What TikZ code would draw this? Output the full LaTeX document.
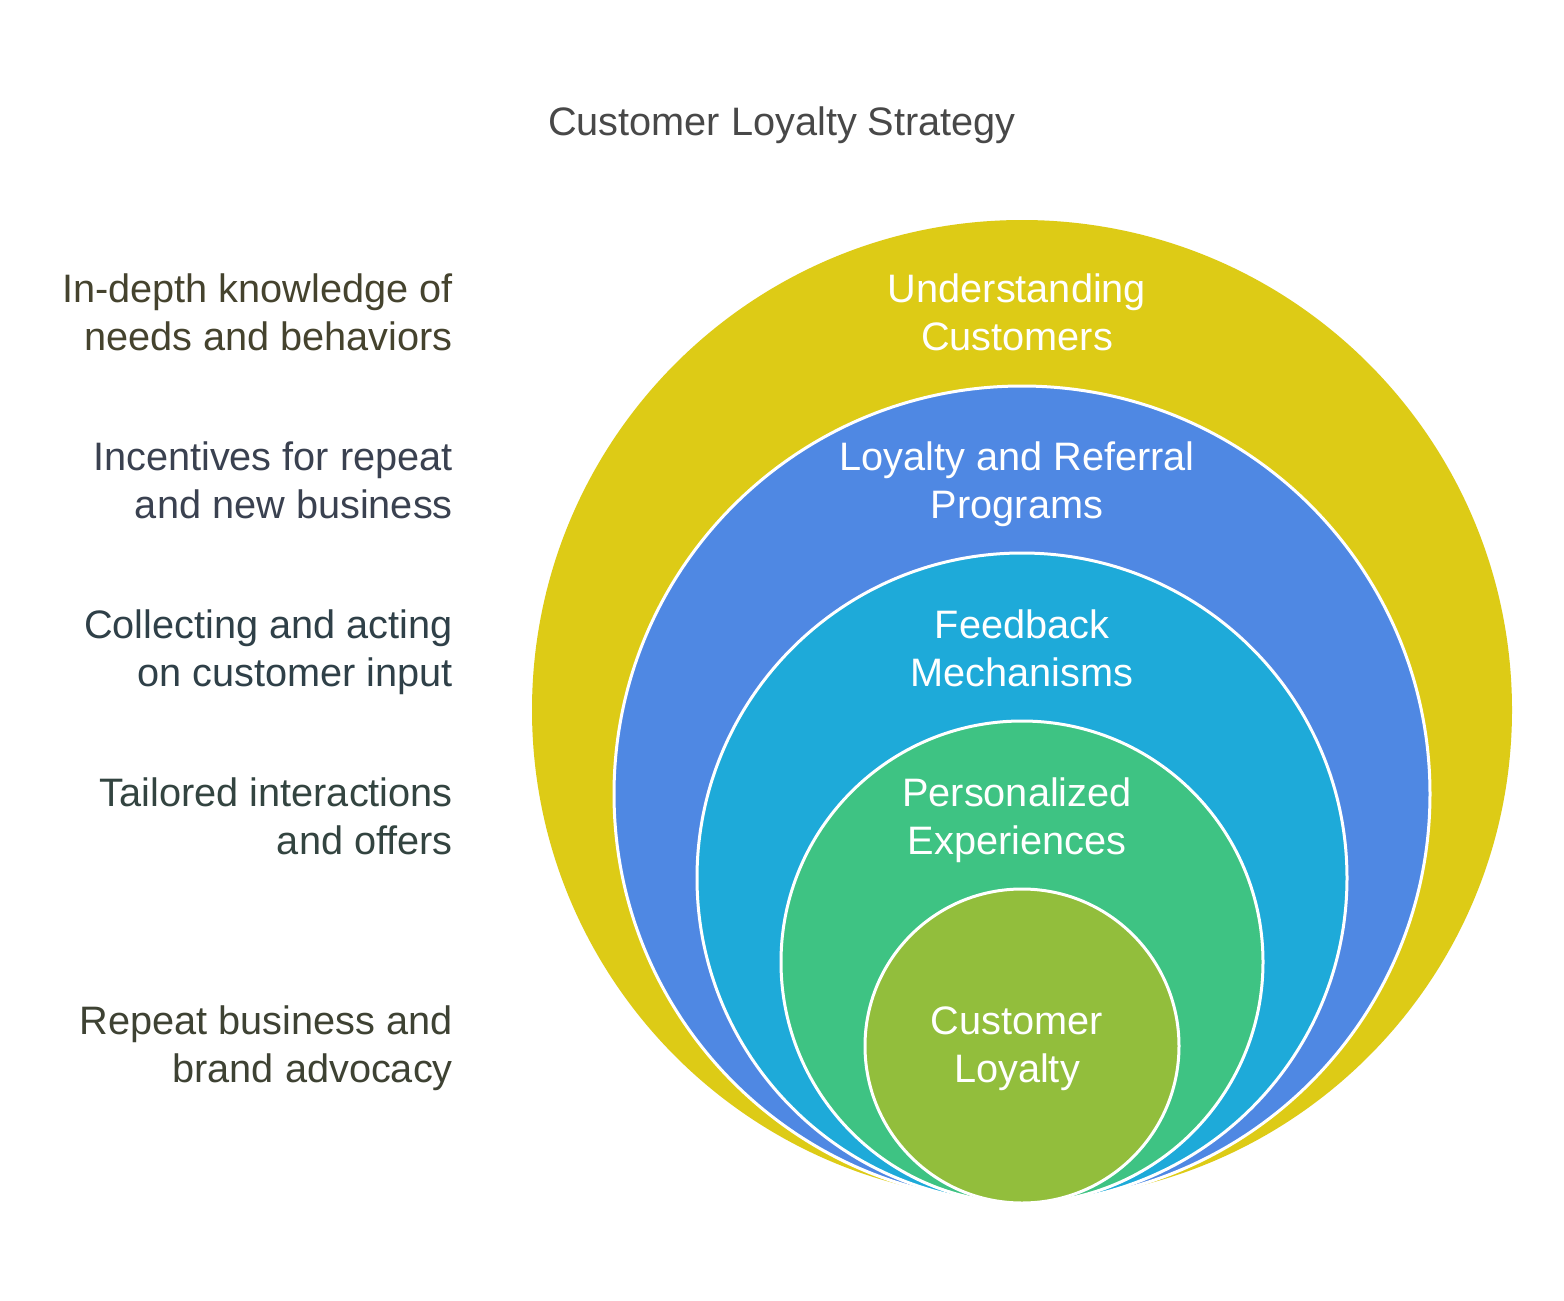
\documentclass[tikz,border=0pt]{standalone}
\usepackage{fontspec}
\setmainfont{Liberation Sans}
\definecolor{cyel}{HTML}{DDCB16}
\definecolor{cblu}{HTML}{4F88E3}
\definecolor{ccya}{HTML}{1EAAD9}
\definecolor{cgrn}{HTML}{3EC383}
\definecolor{coli}{HTML}{92BE3C}
\definecolor{ctitle}{HTML}{484848}
\definecolor{tA}{HTML}{45432E}
\definecolor{tB}{HTML}{3A4150}
\definecolor{tC}{HTML}{2F4048}
\definecolor{tD}{HTML}{334440}
\definecolor{tE}{HTML}{3E4233}
\begin{document}
\begin{tikzpicture}[x=1pt,y=-1pt,
  ring/.style={draw=white,line width=3pt},
  lbl/.style={font=\fontsize{39.7}{48}\selectfont,inner sep=0pt,align=right,anchor=east},
  inlbl/.style={font=\fontsize{39.7}{48}\selectfont,inner sep=0pt,align=center,anchor=center,text=white},
]
\useasboundingbox (0,0) rectangle (1564,1301);
\fill[white] (0,0) rectangle (1564,1301);
% circles
\fill[cyel] (1022,710) circle (490);
\filldraw[ring,fill=cblu] (1022,794) circle (408);
\filldraw[ring,fill=ccya] (1022,878) circle (325);
\filldraw[ring,fill=cgrn] (1022,962) circle (241);
\filldraw[ring,fill=coli] (1022,1046) circle (157);
% title
\node[font=\fontsize{39.7}{48}\selectfont,text=ctitle,inner sep=0pt,anchor=base] (title) at (782,135) {Customer Loyalty Strategy};
% circle labels
\node[inlbl] (c1) at (1017,316.4) {\strut Understanding\\\strut Customers};
\node[inlbl] (c2) at (1017,484.4) {\strut Loyalty and Referral\\\strut Programs};
\node[inlbl] (c3) at (1022,652.4) {\strut Feedback\\\strut Mechanisms};
\node[inlbl] (c4) at (1017,820.4) {\strut Personalized\\\strut Experiences};
\node[inlbl] (c5) at (1017,1048.4) {\strut Customer\\\strut Loyalty};
% side labels
\node[lbl,text=tA] (l1) at (453,316.4) {\strut In-depth knowledge of\\\strut needs and behaviors};
\node[lbl,text=tB] (l2) at (453,484.4) {\strut Incentives for repeat\\\strut and new business};
\node[lbl,text=tC] (l3) at (453,652.4) {\strut Collecting and acting\\\strut on customer input};
\node[lbl,text=tD] (l4) at (453,820.4) {\strut Tailored interactions\\\strut and offers};
\node[lbl,text=tE] (l5) at (453,1048.4) {\strut Repeat business and\\\strut brand advocacy};
\end{tikzpicture}
\end{document}
